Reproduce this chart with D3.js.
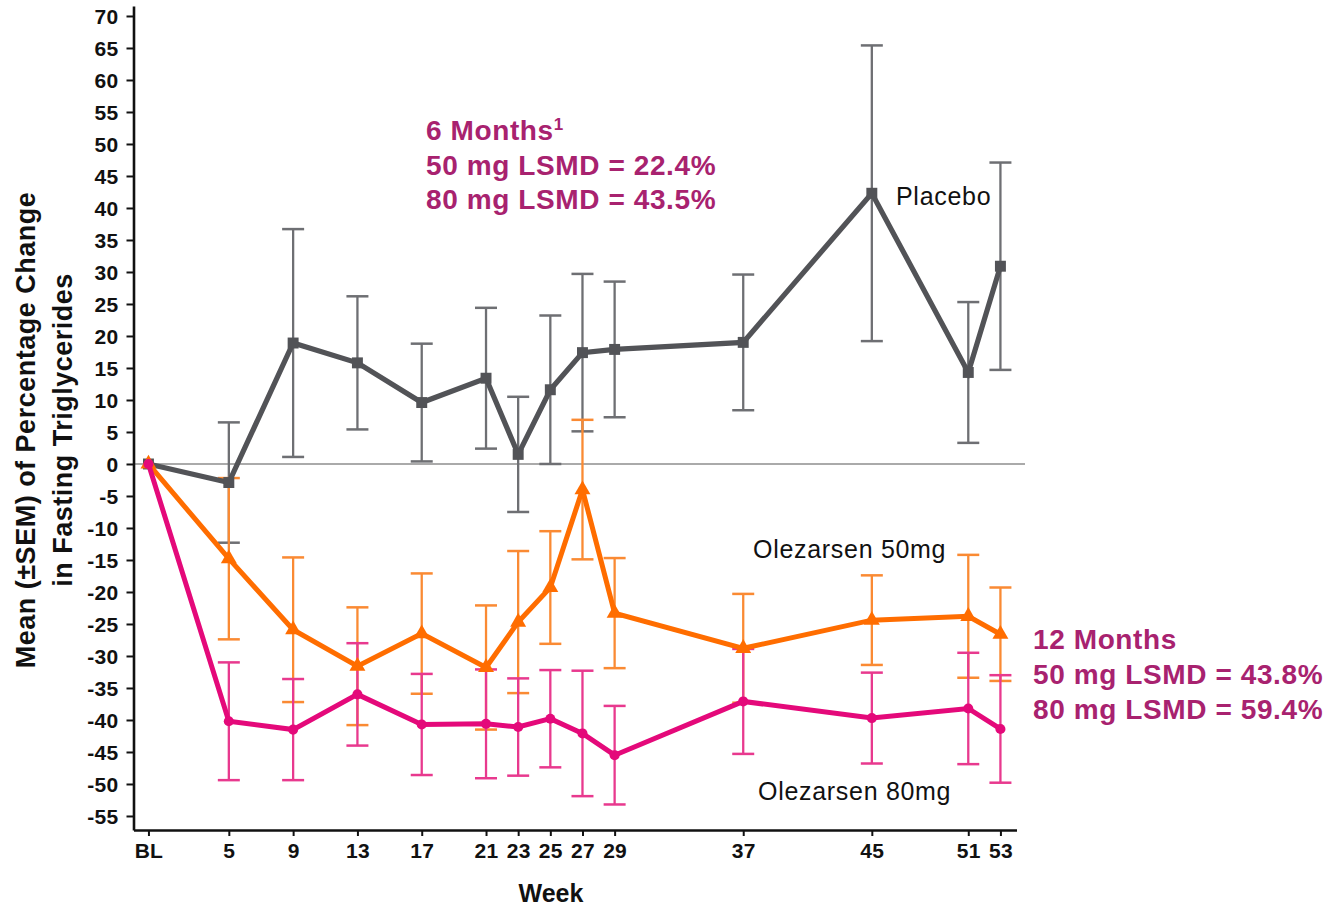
<!DOCTYPE html>
<html>
<head>
<meta charset="utf-8">
<script src="https://cdn.jsdelivr.net/npm/d3@7/dist/d3.min.js"></script>
<style>
  html, body { margin: 0; padding: 0; background: #ffffff; }
  svg { display: block; font-family: "Liberation Sans", Arial, Helvetica, sans-serif; }
</style>
</head>
<body>
<svg id="chart" width="1329" height="907"></svg>
<script>
// Study weeks (BL = baseline, week 0) and the tick labels shown on the x axis
const weeks = [0, 5, 9, 13, 17, 21, 23, 25, 27, 29, 37, 45, 51, 53];
const weekLabels = ["BL", "5", "9", "13", "17", "21", "23", "25", "27", "29", "37", "45", "51", "53"];

// Mean percentage change in fasting triglycerides, and SEM, per arm
const placeboMean = [0, -2.9, 18.9, 15.8, 9.6, 13.4, 1.5, 11.6, 17.4, 17.9, 19.0, 42.3, 14.3, 30.9];
const placeboSem  = [null, 9.4, 17.8, 10.4, 9.2, 11.0, 9.0, 11.6, 12.3, 10.6, 10.6, 23.1, 11.0, 16.2];

const ole50Mean = [0, -14.8, -25.9, -31.6, -26.5, -31.8, -24.7, -19.3, -4.0, -23.3, -28.8, -24.4, -23.8, -26.6];
const ole50Sem  = [null, 12.6, 11.3, 9.2, 9.4, 9.7, 11.1, 8.8, 10.9, 8.6, 8.5, 7.0, 9.6, 7.3];

const ole80Mean = [0, -40.2, -41.5, -36.0, -40.7, -40.6, -41.1, -39.8, -42.1, -45.5, -37.1, -39.7, -38.2, -41.4];
const ole80Sem  = [null, 9.2, 7.9, 8.0, 7.9, 8.5, 7.6, 7.6, 9.8, 7.7, 8.2, 7.1, 8.7, 8.4];

// Y axis tick values
const yTicks = d3.range(-55, 71, 5);

// Annotation text
const sixMonthLines = ["50 mg LSMD = 22.4%", "80 mg LSMD = 43.5%"];
const twelveMonthLines = ["12 Months", "50 mg LSMD = 43.8%", "80 mg LSMD = 59.4%"];

const svg = d3.select("#chart");

const x = d3.scaleLinear().domain([-0.93, 54]).range([133.5, 1016.5]);
const y = d3.scaleLinear().domain([-57.19, 71.56]).range([830, 6]);

// Series definitions
const series = [
  { name: "Placebo", mean: placeboMean, sem: placeboSem, line: "#525357", err: "#6e6f73",
    symbol: d3.symbolSquare, size: 120, width: 5.2 },
  { name: "Olezarsen 50mg", mean: ole50Mean, sem: ole50Sem, line: "#ff6d00", err: "#fa8a33",
    symbol: d3.symbolTriangle, size: 110, width: 5 },
  { name: "Olezarsen 80mg", mean: ole80Mean, sem: ole80Sem, line: "#e4097a", err: "#e8398e",
    symbol: d3.symbolCircle, size: 80, width: 5 }
];

// Zero reference line
svg.append("line")
  .attr("x1", x(-0.93)).attr("x2", 1025)
  .attr("y1", y(0)).attr("y2", y(0))
  .attr("stroke", "#8e8e8e").attr("stroke-width", 1.5);

// Error bars
const capHalf = 11;
series.forEach(s => {
  const g = svg.append("g").attr("class", "err");
  weeks.forEach((w, i) => {
    if (s.sem[i] == null) return;
    const hi = y(s.mean[i] + s.sem[i]);
    const lo = y(s.mean[i] - s.sem[i]);
    const cx = x(w);
    g.append("line").attr("x1", cx).attr("x2", cx).attr("y1", hi).attr("y2", lo)
      .attr("stroke", s.err).attr("stroke-width", 2.3);
    [hi, lo].forEach(cy => {
      g.append("line").attr("x1", cx - capHalf).attr("x2", cx + capHalf)
        .attr("y1", cy).attr("y2", cy)
        .attr("stroke", s.err).attr("stroke-width", 2.5);
    });
  });
});

// Mean lines and markers
const lineGen = d3.line().x(d => x(d[0])).y(d => y(d[1]));
series.forEach(s => {
  const pts = weeks.map((w, i) => [w, s.mean[i]]);
  svg.append("path")
    .attr("d", lineGen(pts))
    .attr("fill", "none")
    .attr("stroke", s.line)
    .attr("stroke-width", s.width)
    .attr("stroke-linejoin", "miter");
  svg.append("g").selectAll("path")
    .data(pts)
    .join("path")
    .attr("transform", d => `translate(${x(d[0])},${y(d[1])})`)
    .attr("d", d3.symbol().type(s.symbol).size(s.size))
    .attr("fill", s.line);
});

// Axes
const yAxis = d3.axisLeft(y)
  .tickValues(yTicks)
  .tickFormat(d => String(d))
  .tickSize(7)
  .tickSizeOuter(0)
  .tickPadding(8);
const gy = svg.append("g").attr("transform", `translate(${x(-0.93)},0)`).call(yAxis);

const xAxis = d3.axisBottom(x)
  .tickValues(weeks)
  .tickFormat((d, i) => weekLabels[i])
  .tickSize(6)
  .tickSizeOuter(0)
  .tickPadding(6);
const gx = svg.append("g").attr("transform", `translate(0,${y(-57.19)})`).call(xAxis);

[gx, gy].forEach(g => {
  g.select(".domain").attr("stroke", "#111").attr("stroke-width", 2.6);
  g.selectAll(".tick line").attr("stroke", "#111").attr("stroke-width", 2);
  g.selectAll(".tick text")
    .attr("fill", "#111")
    .style("font-family", "'Liberation Sans', Arial, sans-serif")
    .style("font-weight", "bold")
    .style("font-size", "21px")
    .style("letter-spacing", "0.3px");
});
gx.selectAll(".tick text").attr("dy", "0.76em");
gy.selectAll(".tick text").attr("dy", "0.35em");

// Axis titles
svg.append("text")
  .attr("x", 551).attr("y", 902)
  .attr("text-anchor", "middle")
  .style("font-weight", "bold").style("font-size", "25px")
  .attr("fill", "#111")
  .text("Week");

const yTitle = svg.append("text")
  .attr("transform", "translate(35,430) rotate(-90)")
  .attr("text-anchor", "middle")
  .style("font-weight", "bold").style("font-size", "27px")
  .style("letter-spacing", "0.5px")
  .attr("fill", "#111");
yTitle.append("tspan").attr("x", 0).attr("y", 0).text("Mean (±SEM) of Percentage Change");
yTitle.append("tspan").attr("x", 0).attr("y", 37).text("in Fasting Triglycerides");

// Series labels
const labelStyle = sel => sel
  .style("font-size", "25px").style("letter-spacing", "0.7px")
  .attr("fill", "#111");
svg.append("text").attr("x", 896).attr("y", 205).call(labelStyle).text("Placebo");
svg.append("text").attr("x", 753).attr("y", 558).call(labelStyle).text("Olezarsen 50mg");
svg.append("text").attr("x", 758).attr("y", 800).call(labelStyle).text("Olezarsen 80mg");

// Treatment-difference annotations
const noteColor = "#a8226f";
const noteStyle = sel => sel
  .style("font-weight", "bold").style("font-size", "28px")
  .style("letter-spacing", "0.6px")
  .attr("fill", noteColor);
const six = svg.append("text")
  .attr("x", 426).attr("y", 140)
  .call(noteStyle);
six.append("tspan").text("6 Months");
six.append("tspan").attr("dy", -10).style("font-size", "17px").text("1");
sixMonthLines.forEach((t, i) => {
  svg.append("text")
    .attr("x", 426).attr("y", 175 + i * 34)
    .call(noteStyle)
    .text(t);
});
twelveMonthLines.forEach((t, i) => {
  svg.append("text")
    .attr("x", 1033).attr("y", 649 + i * 35)
    .call(noteStyle)
    .text(t);
});
</script>
</body>
</html>
